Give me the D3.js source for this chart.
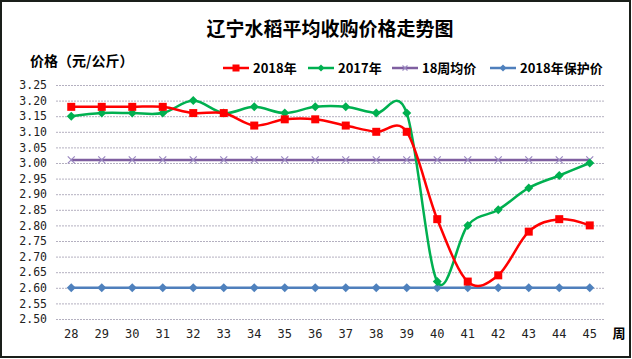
<!DOCTYPE html>
<html><head><meta charset="utf-8">
<script src="https://cdn.jsdelivr.net/npm/d3@7"></script>
<style>body{margin:0;background:#fff}svg{display:block}</style>
</head><body>
<svg id="c" width="632" height="359"></svg>
<script>
const weeks = [28,29,30,31,32,33,34,35,36,37,38,39,40,41,42,43,44,45];
const price2018 = [3.18,3.18,3.18,3.18,3.16,3.16,3.12,3.14,3.14,3.12,3.10,3.10,2.82,2.62,2.64,2.78,2.82,2.80];
const price2017 = [3.15,3.16,3.16,3.16,3.20,3.16,3.18,3.16,3.18,3.18,3.16,3.16,2.62,2.80,2.85,2.92,2.96,3.00];
const avg18 = [3.01,3.01,3.01,3.01,3.01,3.01,3.01,3.01,3.01,3.01,3.01,3.01,3.01,3.01,3.01,3.01,3.01,3.01];
const protect2018 = [2.60,2.60,2.60,2.60,2.60,2.60,2.60,2.60,2.60,2.60,2.60,2.60,2.60,2.60,2.60,2.60,2.60,2.60];
const yTicks = [2.50,2.55,2.60,2.65,2.70,2.75,2.80,2.85,2.90,2.95,3.00,3.05,3.10,3.15,3.20,3.25];
const seriesNames = ["2018年","2017年","18周均价","2018年保护价"];
const title = "辽宁水稻平均收购价格走势图";
const yTitle = "价格（元/公斤）";
const xUnit = "周";

const svg = d3.select("#c");
const L = 56, R = 605, T = 85, B = 319;
const x = d3.scaleBand().domain(weeks).range([L, R]);
const y = d3.scaleLinear().domain([2.5, 3.25]).range([B, T]);
const cx = w => x(w) + x.bandwidth()/2;

svg.append("rect").attr("x",0).attr("y",0).attr("width",632).attr("height",359).attr("fill","#fff");
svg.append("rect").attr("x",1).attr("y",1).attr("width",629).attr("height",356)
  .attr("fill","none").attr("stroke","#1a1f1a").attr("stroke-width",2);

// title
svg.append("text").attr("x",330).attr("y",36).attr("text-anchor","middle")
  .attr("font-family","'Noto Sans CJK SC'").attr("font-weight","bold").attr("font-size",19)
  .text(title);
svg.append("text").attr("x",30).attr("y",66)
  .attr("font-family","'Noto Sans CJK SC'").attr("font-weight","bold").attr("font-size",14)
  .text(yTitle);

// grid
const yAxis = d3.axisLeft(y).tickValues(yTicks).tickFormat(d3.format(".2f")).tickSize(-(R-L)).tickPadding(9);
const gy = svg.append("g").attr("transform",`translate(${L},0)`).call(yAxis);
gy.select(".domain").remove();
gy.selectAll(".tick line").attr("stroke","#b4b0c0").attr("stroke-dasharray","2,1");
gy.selectAll(".tick text").attr("font-family","'DejaVu Sans Mono'").attr("font-size",11.5).attr("fill","#222");

const xAxis = d3.axisBottom(x).tickSize(0).tickPadding(10);
const gx = svg.append("g").attr("transform",`translate(0,${B})`).call(xAxis);
gx.select(".domain").remove();
gx.selectAll(".tick text").attr("font-family","'DejaVu Sans Mono'").attr("font-size",12).attr("fill","#222");

svg.append("text").attr("x",619).attr("y",338).attr("text-anchor","middle")
  .attr("font-family","'Noto Sans CJK SC'").attr("font-weight","bold").attr("font-size",13)
  .text(xUnit);

const smooth = d3.line().x((d,i)=>cx(weeks[i])).y(d=>y(d)).curve(d3.curveCatmullRom.alpha(0));
const straight = d3.line().x((d,i)=>cx(weeks[i])).y(d=>y(d));

const series = [
  {name:seriesNames[0], data:price2018, color:"#ff0000", mcolor:"#ff0000", marker:"square", line:smooth},
  {name:seriesNames[1], data:price2017, color:"#00b050", mcolor:"#00b050", marker:"diamond", line:smooth},
  {name:seriesNames[2], data:avg18, color:"#7f5fa0", mcolor:"#9a88c0", marker:"x", line:straight},
  {name:seriesNames[3], data:protect2018, color:"#4f7fbc", mcolor:"#4f81bd", marker:"diamond", line:straight}
];

function drawMarker(g, type, px, py, color, size) {
  if (type === "square") {
    g.append("rect").attr("x",px-size/2).attr("y",py-size/2).attr("width",size).attr("height",size).attr("fill",color);
  } else if (type === "diamond") {
    const s = size/2 + 1;
    g.append("path").attr("d",`M${px},${py-s}L${px+s},${py}L${px},${py+s}L${px-s},${py}Z`).attr("fill",color);
  } else {
    const s = size/2;
    g.append("path").attr("d",`M${px-s},${py-s}L${px+s},${py+s}M${px-s},${py+s}L${px+s},${py-s}`)
      .attr("stroke",color).attr("stroke-width",1.2).attr("fill","none");
  }
}

// draw order: protect, avg, 2017, 2018
[3,2,1,0].forEach(k => {
  const s = series[k];
  const g = svg.append("g");
  g.append("path").attr("d", s.line(s.data)).attr("fill","none").attr("stroke",s.color).attr("stroke-width",2.5);
  s.data.forEach((v,i) => drawMarker(g, s.marker, cx(weeks[i]), y(v), s.mcolor, s.marker==="square"?8:7));
});

// legend
const legendX = [223, 308, 392, 490];
const lg = svg.append("g");
series.forEach((s,k) => {
  const lx = legendX[k], ly = 68;
  lg.append("line").attr("x1",lx).attr("x2",lx+26).attr("y1",ly).attr("y2",ly).attr("stroke",s.color).attr("stroke-width",2.5);
  drawMarker(lg, s.marker, lx+13, ly, s.mcolor, s.marker==="square"?7:5);
  lg.append("text").attr("x",lx+30).attr("y",ly+4.5)
    .attr("font-family","'Noto Sans CJK SC'").attr("font-weight","bold").attr("font-size",13)
    .text(s.name);
});
</script>
</body></html>
